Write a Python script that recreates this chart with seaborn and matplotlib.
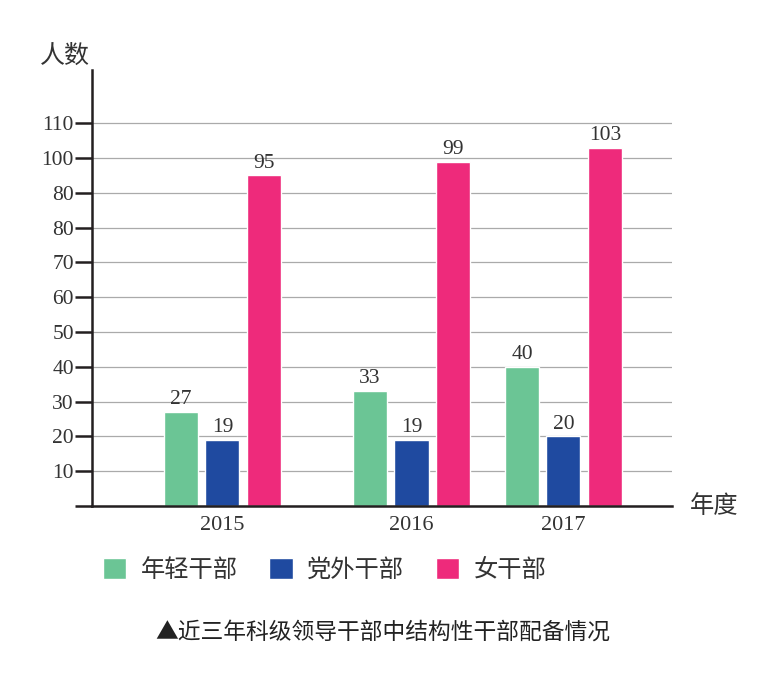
import matplotlib
matplotlib.use("Agg")
import matplotlib.pyplot as plt
import seaborn as sns
import pandas as pd

# ---- data ----
years = ["2015", "2016", "2017"]
series = ["年轻干部", "党外干部", "女干部"]
young = [27, 33, 40]
nonparty = [19, 19, 20]
female = [95, 99, 103]
ytick_values = [0, 10, 20, 30, 40, 50, 60, 70, 80, 90, 100, 110]
ytick_labels = ["", "10", "20", "30", "40", "50", "60", "70", "80", "80", "100", "110"]
colors = ["#6BC595", "#1F4AA0", "#EE2A7B"]

# layout: group centers (uneven spacing as in reference)
group_centers = [0.0, 1.0, 1.804]

rows = []
for i, y in enumerate(years):
    for s, vals in zip(series, [young, nonparty, female]):
        rows.append({"pos": group_centers[i], "series": s, "value": vals[i]})
df = pd.DataFrame(rows)

sns.set_theme(style="white")
serif = "Liberation Serif"
cjk = ["Noto Sans CJK SC", "DejaVu Sans"]
plt.rcParams["font.family"] = cjk

fig = plt.figure(figsize=(7.7, 6.78), dpi=100)
ax = fig.add_axes([92/770, 1 - 506/678, (672-92)/770, (506-70)/678])

sns.barplot(data=df, x="pos", y="value", hue="series", hue_order=series,
            palette=colors, native_scale=True, width=0.819, gap=0.18,
            saturation=1, ax=ax, legend=True, zorder=3)

ax.set_xlim(-0.690, 2.378)
ax.set_ylim(0, 125.3)

# value labels
for cont in ax.containers:
    ax.bar_label(cont, fmt="%d", padding=2, fontsize=15.5, color="#333333",
                 family=serif)

# axes styling
for s in ["top", "right"]:
    ax.spines[s].set_visible(False)
for s in ["left", "bottom"]:
    ax.spines[s].set_color("#231F20")
    ax.spines[s].set_linewidth(1.8)
    ax.spines[s].set_zorder(5)

ax.set_yticks(ytick_values)
ax.set_yticklabels(ytick_labels, family=serif, fontsize=15.5, color="#333333")
ax.tick_params(axis="y", length=12, width=1.8, color="#231F20", pad=1, left=True)
ax.set_xticks(group_centers)
ax.set_xticklabels(years, family=serif, fontsize=16, color="#333333")
ax.tick_params(axis="x", length=0, pad=7)
ax.yaxis.grid(True, color="#aaaaaa", linewidth=0.9, zorder=0)
ax.xaxis.grid(False)
ax.set_axisbelow(True)
ax.set_xlabel("")
ax.set_ylabel("")

# legend
handles, labels = ax.get_legend_handles_labels()
ax.get_legend().remove()
fig.legend(handles, labels, loc="upper left", bbox_to_anchor=(91/770, 1 - 545/678),
           ncol=3, frameon=False, fontsize=17.5, handlelength=0.95, handleheight=0.95,
           handletextpad=0.6, columnspacing=1.3, borderpad=0, labelcolor="#333333")

# axis titles
fig.text(40/770, 1 - 56/678, "人数", fontsize=18, color="#333333", va="center", ha="left")
fig.text(690/770, 1 - 506/678, "年度", fontsize=17.5, color="#333333", va="center", ha="left")

# caption
fig.text(383/770, 1 - 632/678, "▲近三年科级领导干部中结构性干部配备情况", fontsize=16.4,
         color="#222222", va="center", ha="center", family=cjk)

fig.savefig("out.png", dpi=100)
